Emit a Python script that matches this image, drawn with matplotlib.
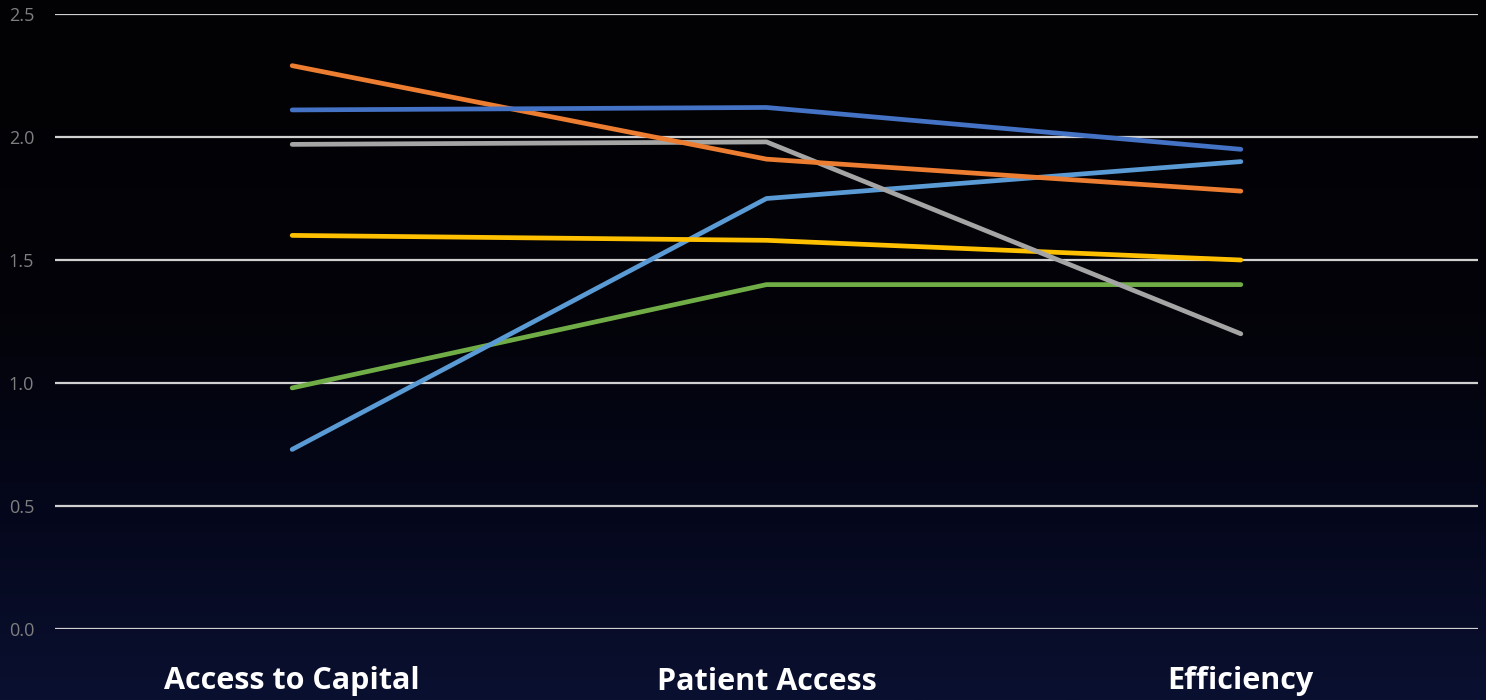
import numpy as np
import matplotlib
matplotlib.use("Agg")
import matplotlib.pyplot as plt
from matplotlib.colors import LinearSegmentedColormap

# data
categories = ["Access to Capital", "Patient Access", "Efficiency"]
dark_blue = [2.11, 2.12, 1.95]
orange = [2.29, 1.91, 1.78]
gray = [1.97, 1.98, 1.20]
yellow = [1.60, 1.58, 1.50]
light_blue = [0.73, 1.75, 1.90]
green = [0.98, 1.40, 1.40]

series = [
    (green, "#70AD47"),
    (light_blue, "#5B9BD5"),
    (yellow, "#FFC000"),
    (gray, "#A5A5A5"),
    (orange, "#ED7D31"),
    (dark_blue, "#4472C4"),
]
yticks = [0.0, 0.5, 1.0, 1.5, 2.0, 2.5]

fig = plt.figure(figsize=(14.86, 7.0), dpi=100)

# dark gradient background, navy only near the bottom
bg = fig.add_axes([0, 0, 1, 1], zorder=-10)
cmap = LinearSegmentedColormap.from_list(
    "bg", [(0, "#0a1030"), (0.25, "#05081d"), (0.55, "#030309"), (1, "#020204")])
grad = np.linspace(0, 1, 256).reshape(-1, 1)
bg.imshow(grad, aspect="auto", cmap=cmap, origin="lower", extent=[0, 1, 0, 1])
bg.axis("off")

ax = fig.add_axes([55 / 1486, 71 / 700, 1423 / 1486, 615 / 700])
ax.patch.set_alpha(0)

x = np.arange(len(categories))
for vals, col in series:
    ax.plot(x, vals, color=col, lw=3.4, solid_capstyle="round", zorder=3)

ax.set_xlim(-0.5, 2.5)
ax.set_ylim(0, 2.5)
ax.set_yticks(yticks)
ax.set_yticklabels([f"{v:.1f}" for v in yticks], color="#7f7f7f", fontsize=13, family="Open Sans")
ax.set_xticks(x)
ax.set_xticklabels(categories, color="white", fontsize=22, fontweight="bold", family="Open Sans")
ax.tick_params(axis="both", length=0)
ax.tick_params(axis="y", pad=15)
ax.tick_params(axis="x", pad=27)
for sp in ax.spines.values():
    sp.set_visible(False)
ax.grid(axis="y", color="#d0d0d0", lw=1.6, zorder=1)
ax.set_axisbelow(True)

fig.savefig("out.png", dpi=100)
